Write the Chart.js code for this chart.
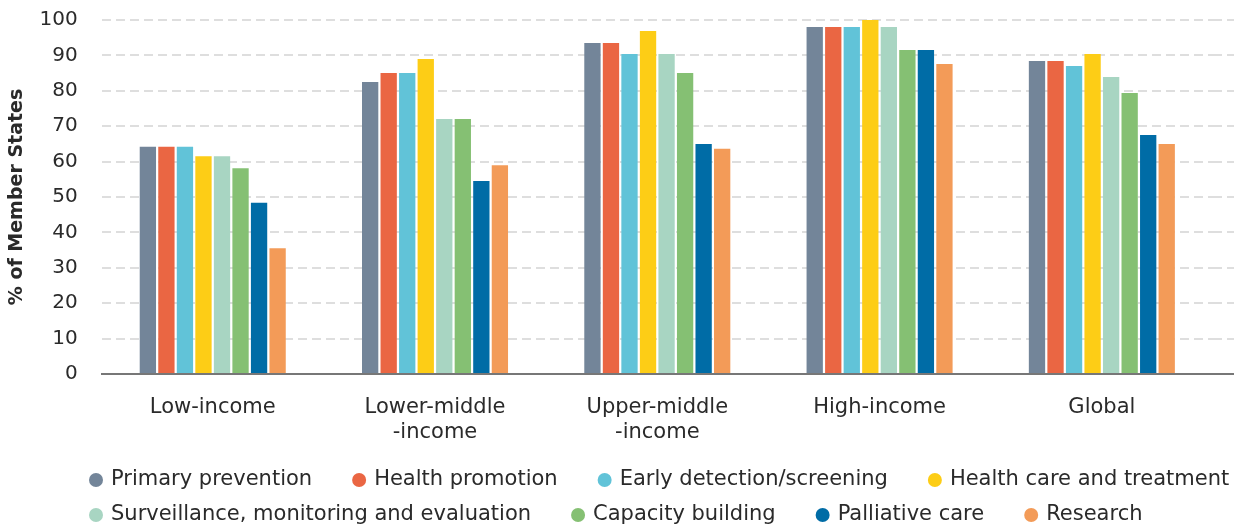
<!DOCTYPE html>
<html><head><meta charset="utf-8">
<script src="https://cdn.jsdelivr.net/npm/chart.js@4"></script>
<style>html,body{margin:0;padding:0;background:#fff}</style>
</head><body>
<canvas id="c" width="1234" height="526"></canvas>
<script>
const categories = ['Low-income', ['Lower-middle', '-income'], ['Upper-middle', '-income'], 'High-income', 'Global'];
const seriesNames = ['Primary prevention', 'Health promotion', 'Early detection/screening', 'Health care and treatment',
  'Surveillance, monitoring and evaluation', 'Capacity building', 'Palliative care', 'Research'];
const primaryPrevention = [64.2, 82.5, 93.5, 98.0, 88.4];
const healthPromotion   = [64.2, 85.0, 93.5, 98.0, 88.4];
const earlyDetection    = [64.2, 85.0, 90.4, 98.0, 87.0];
const healthCare        = [61.5, 89.0, 96.9, 100, 90.4];
const surveillance      = [61.5, 72.0, 90.4, 98.0, 83.9];
const capacityBuilding  = [58.1, 72.0, 85.0, 91.5, 79.4];
const palliativeCare    = [48.4, 54.5, 65.0, 91.5, 67.5];
const research          = [35.5, 59.0, 63.6, 87.6, 65.0];
const seriesValues = [primaryPrevention, healthPromotion, earlyDetection, healthCare, surveillance, capacityBuilding, palliativeCare, research];
const seriesColors = ['#738599', '#EA6643', '#61C3D8', '#FDCD16', '#A8D5C2', '#85C073', '#006CA6', '#F39B58'];
const yTickValues = [0, 10, 20, 30, 40, 50, 60, 70, 80, 90, 100];

const FONT = "'DejaVu Sans', sans-serif";
const TEXT = '#2a2a2a';

const extendGrid = {
  id: 'extendGrid',
  beforeDatasetsDraw(chart) {
    const {ctx, chartArea} = chart;
    const y = chart.scales.y;
    ctx.save();
    ctx.strokeStyle = '#dedede';
    ctx.lineWidth = 2;
    ctx.setLineDash([9, 5]);
    yTickValues.forEach(v => {
      if (v === 0) return;
      const py = Math.round(y.getPixelForValue(v));
      ctx.beginPath();
      ctx.moveTo(chartArea.right, py);
      ctx.lineTo(chart.width, py);
      ctx.stroke();
    });
    ctx.setLineDash([]);
    ctx.strokeStyle = '#777';
    ctx.lineWidth = 2;
    const p0 = y.getPixelForValue(0);
    ctx.beginPath();
    ctx.moveTo(chartArea.right, p0);
    ctx.lineTo(chart.width, p0);
    ctx.stroke();
    ctx.restore();
  }
};

const customLegend = {
  id: 'customLegend',
  afterDraw(chart) {
    const {ctx} = chart;
    ctx.save();
    ctx.font = `21px ${FONT}`;
    ctx.textBaseline = 'middle';
    ctx.textAlign = 'left';
    const rowsY = [480, 515];
    const startX = 89, r = 7, gapDot = 8, gapItem = 40;
    let x = startX;
    chart.data.datasets.forEach((ds, i) => {
      const row = i < 4 ? 0 : 1;
      if (i === 4) x = startX;
      const cy = rowsY[row];
      ctx.fillStyle = ds.backgroundColor;
      ctx.beginPath();
      ctx.arc(x + r, cy, r, 0, Math.PI * 2);
      ctx.fill();
      ctx.fillStyle = TEXT;
      const tx = x + 2 * r + gapDot;
      ctx.fillText(ds.label, tx, cy);
      x = tx + ctx.measureText(ds.label).width + gapItem;
    });
    ctx.restore();
  }
};

new Chart(document.getElementById('c'), {
  type: 'bar',
  data: {
    labels: categories,
    datasets: seriesNames.map((n, i) => ({
      label: n,
      data: seriesValues[i],
      backgroundColor: seriesColors[i],
      borderWidth: 0,
      categoryPercentage: 0.667,
      barPercentage: 0.88
    }))
  },
  options: {
    responsive: false,
    animation: false,
    devicePixelRatio: 1,
    layout: {padding: {top: 20, right: 21, left: 0, bottom: 0}},
    plugins: {legend: {display: false}, tooltip: {enabled: false}},
    scales: {
      x: {
        grid: {display: false, drawTicks: false},
        border: {display: true, color: '#777', width: 2},
        ticks: {color: TEXT, font: {family: FONT, size: 21}, padding: 21, maxRotation: 0, autoSkip: false},
        afterFit(s) { s.height = 152; }
      },
      y: {
        min: 0, max: 100,
        afterBuildTicks(s) { s.ticks = yTickValues.map(v => ({value: v})); },
        grid: {color: '#dedede', lineWidth: 2, drawTicks: true, tickLength: 22, tickColor: 'rgba(0,0,0,0)'},
        border: {display: false, dash: [9, 5]},
        ticks: {color: TEXT, font: {family: FONT, size: 20}, padding: 2},
        title: {display: true, text: '% of Member States', color: TEXT, font: {family: FONT, size: 19, weight: 'bold'}, padding: {top: 6, bottom: 0}},
        afterFit(s) { s.width = 101.6; }
      }
    }
  },
  plugins: [extendGrid, customLegend]
});
</script>
</body></html>
